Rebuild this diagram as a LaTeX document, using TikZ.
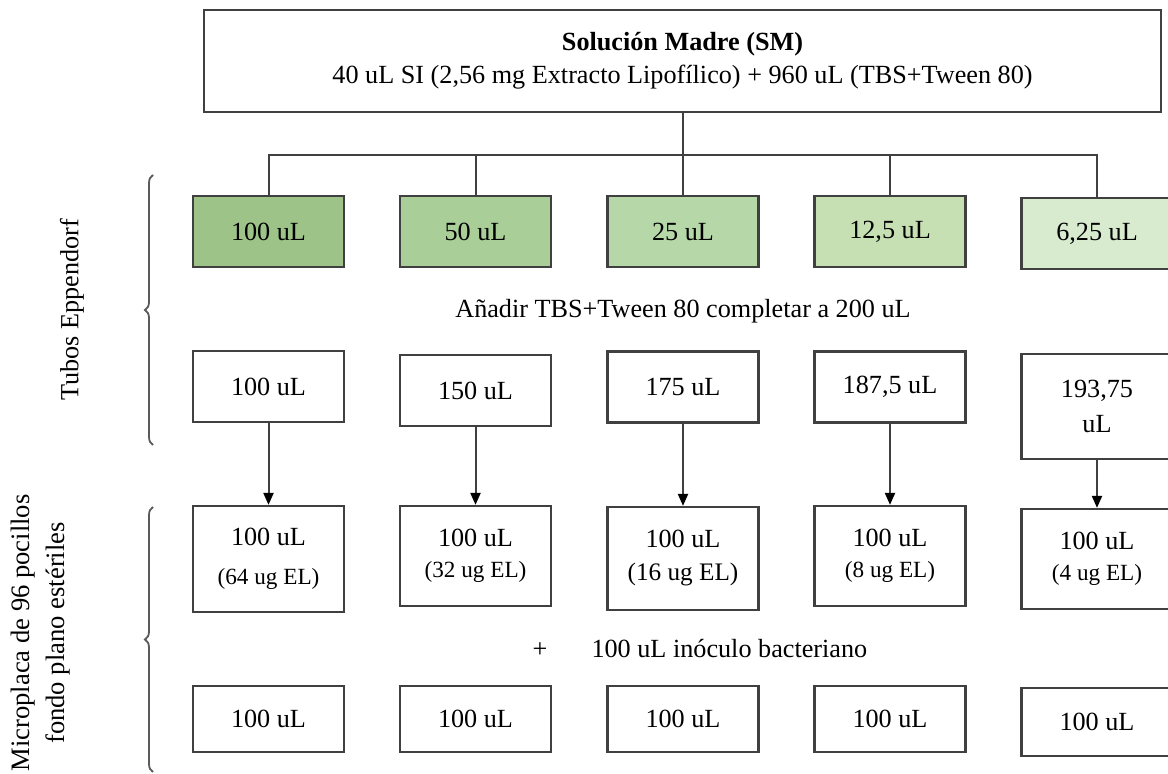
\documentclass[tikz,border=0pt]{standalone}
\usepackage{fontspec}
\setmainfont{Liberation Serif}
\usetikzlibrary{arrows.meta,decorations.pathreplacing}

\definecolor{linegray}{HTML}{404040}
\definecolor{bracegray}{HTML}{5A5A5A}
\definecolor{verde1}{HTML}{9DC389}
\definecolor{verde2}{HTML}{A9CE98}
\definecolor{verde3}{HTML}{B6D7A8}
\definecolor{verde4}{HTML}{C6E0B4}
\definecolor{verde5}{HTML}{D8EBCF}

\begin{document}
\begin{tikzpicture}[x=0.5pt, y=-0.5pt,
                        every node/.style={font=\fontsize{13.1}{15.5}\selectfont},
                        box/.style={rectangle, draw=linegray, line width=1.1pt, fill=white, align=center,
                                    minimum width=75.5pt, minimum height=35.5pt, inner sep=2pt},
                        every edge/.style={draw, line width=1pt, linegray, -{Triangle[length=6pt,width=5pt,color=black]}},
                        brace/.style={decorate, decoration={brace, amplitude=4pt}, bracegray, line width=0.9pt}]

                        \useasboundingbox (0,0) rectangle (1168,774);

                        % Define nodes
                        \node[box, minimum width=478.5pt, minimum height=51pt] (sm) at (682.5,61)
                            {\textbf{Solución Madre (SM)}\\[1pt]40 uL SI (2,56 mg Extracto Lipofílico) + 960 uL (TBS+Tween 80)}; % Stock

                        \node[box, fill=verde1] (t1) at (268.5,231.5) {100 uL}; % Tubes
                        \node[box, fill=verde2] (t2) at (475.5,231.5) {50 uL};
                        \node[box, fill=verde3] (t3) at (683,231.5) {25 uL};
                        \node[box, fill=verde4] (t4) at (890,231.5) {12,5 uL};
                        \node[box, fill=verde5] (t5) at (1097,233.5) {6,25 uL};

                        \node (anadir) at (683,311) {Añadir TBS+Tween 80 completar a 200 uL};

                        \node[box] (d1) at (268.5,386.5) {100 uL}; % Diluent
                        \node[box] (d2) at (475.5,390.5) {150 uL};
                        \node[box] (d3) at (683,387) {175 uL};
                        \node[box] (d4) at (890,387) {187,5 uL};
                        \node[box, minimum height=52.5pt] (d5) at (1097,406.5) {193,75\\[2pt]uL};

                        \node[box, minimum height=53pt] (w1) at (268.5,559)
                            {100 uL\\[4pt]{\fontsize{11.6}{14}\selectfont(64 ug EL)}}; % Wells
                        \node[box, minimum height=50pt] (w2) at (475.5,556)
                            {100 uL\\{\fontsize{11.6}{14}\selectfont(32 ug EL)}};
                        \node[box, minimum height=51.5pt] (w3) at (683,558.5)
                            {100 uL\\[1pt]{\fontsize{12.6}{15}\selectfont(16 ug EL)}};
                        \node[box, minimum height=50pt] (w4) at (890,556)
                            {100 uL\\{\fontsize{11.6}{14}\selectfont(8 ug EL)}};
                        \node[box, minimum height=50pt] (w5) at (1097,559)
                            {100 uL\\{\fontsize{11.6}{14}\selectfont(4 ug EL)}};

                        \node (inoc) at (700,649) {+\hspace{22pt}100 uL inóculo bacteriano};

                        \node[box, minimum height=33pt] (b1) at (268.5,719) {100 uL}; % Bottom row
                        \node[box, minimum height=33pt] (b2) at (475.5,719) {100 uL};
                        \node[box, minimum height=33pt] (b3) at (683,719) {100 uL};
                        \node[box, minimum height=33pt] (b4) at (890,719) {100 uL};
                        \node[box, minimum height=34pt] (b5) at (1097,722) {100 uL};

                        % Side labels
                        \node[rotate=90] (tubos) at (72,310) {Tubos Eppendorf};
                        \node[rotate=90, align=center, font=\fontsize{13.3}{17.5}\selectfont] (micro) at (40.5,633)
                            {Microplaca de 96 pocillos\\fondo plano estériles};
                        \draw[brace] (153,445) -- (153,175);
                        \draw[brace] (153,772) -- (153,507);

                        % Define edges
                        \coordinate (bus) at (683,155);
                        \draw[linegray, line width=1pt] (sm.south -| t3) -- (t3);
                        \draw[linegray, line width=1pt] (t1.north) |- (bus) -| (t5.north);
                        \draw[linegray, line width=1pt] (t2.north) -- (t2.north |- bus);
                        \draw[linegray, line width=1pt] (t4.north) -- (t4.north |- bus);

                        \path (d1) edge (w1);
                        \path (d2) edge (w2);
                        \path (d3) edge (w3);
                        \path (d4) edge (w4);
                        \path (d5) edge (w5);
                        \end{tikzpicture}
\end{document}
